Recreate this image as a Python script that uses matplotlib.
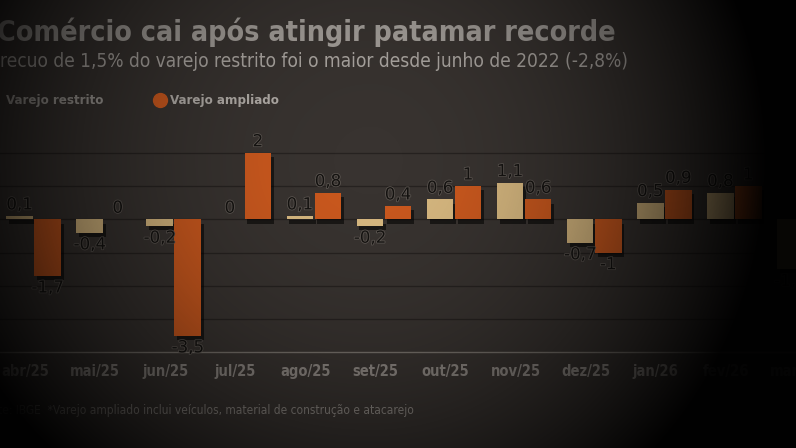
import numpy as np
import matplotlib
matplotlib.use("Agg")
import matplotlib.pyplot as plt
import matplotlib.patheffects as pe
from matplotlib.lines import Line2D

# Dados
meses = ["abr/25", "mai/25", "jun/25", "jul/25", "ago/25", "set/25",
         "out/25", "nov/25", "dez/25", "jan/26", "fev/26", "mar/26"]
restrito = [0.1, -0.4, -0.2, 0.0, 0.1, -0.2, 0.6, 1.1, -0.7, 0.5, 0.8, -1.5]
ampliado = [-1.7, 0.0, -3.5, 2.0, 0.8, 0.4, 1.0, 0.6, -1.0, 0.9, 1.0, None]

titulo = "Comércio cai após atingir patamar recorde"
subtitulo = "recuo de 1,5% do varejo restrito foi o maior desde junho de 2022 (-2,8%)"
nota = "Fonte: IBGE  *Varejo ampliado inclui veículos, material de construção e atacarejo"

# Estilo
cor_fundo = "#383330"
cor_restrito = "#d6b77f"
cor_ampliado = "#c9581e"
cor_rotulo = "#151311"
fonte = "DejaVu Sans"
cond = "condensed"

W, H = 796, 448
fig = plt.figure(figsize=(W / 100, H / 100), dpi=100, facecolor=cor_fundo)
ax = fig.add_axes([0, 0.21, 1, 0.493])
ax.set_facecolor(cor_fundo)

x = np.arange(len(meses))
larg = 0.38
desl = 0.2
sombra = [pe.SimplePatchShadow(offset=(2, -3), shadow_rgbFace="black", alpha=0.55), pe.Normal()]
contorno = [pe.withStroke(linewidth=1.1, foreground="#5e5853")]

def fmt(v):
    return f"{v:g}".replace(".", ",")

for serie, cor, d in [(restrito, cor_restrito, -desl), (ampliado, cor_ampliado, desl)]:
    for xi, v in zip(x, serie):
        if v is None:
            continue
        if v != 0:
            b = ax.bar(xi + d, v, width=larg, color=cor, zorder=3)
            b[0].set_path_effects(sombra)
        if v >= 0:
            ax.text(xi + d, v + 0.08, fmt(v), ha="center", va="bottom", fontsize=12,
                    color=cor_rotulo, family=fonte, zorder=4, path_effects=contorno)
        else:
            ax.text(xi + d, v - 0.08, fmt(v), ha="center", va="top", fontsize=12,
                    color=cor_rotulo, family=fonte, zorder=4, path_effects=contorno)

ax.set_xlim(-0.48, 10.76)
ax.set_ylim(-4.05, 2.6)
for g in [-3, -2, -1, 0, 1, 2]:
    ax.axhline(g, color="#262220", lw=0.9, zorder=1)
ax.axhline(-4, color="#77716b", lw=1.0, zorder=1)

ax.set_xticks(x - 0.12)
ax.set_xticklabels(meses, family=fonte, fontstretch=cond, fontsize=10.5,
                   fontweight="bold", color="#8d8782")
ax.tick_params(axis="x", length=0, pad=7)
ax.set_yticks([])
for s in ax.spines.values():
    s.set_visible(False)

# Textos
fig.text(-0.004, 0.928, titulo, fontsize=20.5, fontweight="bold", fontstretch=cond,
         color="#a29d98", family=fonte, va="center", ha="left")
fig.text(0.0, 0.862, subtitulo, fontsize=13.7, fontstretch=cond, color="#aaa5a0",
         family=fonte, va="center", ha="left")
fig.text(0.007, 0.776, "Varejo restrito", fontsize=9.5, fontweight="bold", fontstretch=cond,
         color="#a29d98", family=fonte, va="center", ha="left")
fig.add_artist(Line2D([0.201], [0.776], marker="o", markersize=10, color=cor_ampliado,
                      linestyle="none", transform=fig.transFigure))
fig.text(0.213, 0.776, "Varejo ampliado", fontsize=9.5, fontweight="bold", fontstretch=cond,
         color="#b0aba6", family=fonte, va="center", ha="left")
fig.text(-0.026, 0.083, nota, fontsize=8.6, fontstretch=cond, color="#8a8580",
         family=fonte, va="center", ha="left")

# Vinheta (iluminação), mais suave à esquerda
yy, xx = np.mgrid[0:H, 0:W]
escala_x = np.where(xx < 370, 450.0, 400.0)
r = np.sqrt(((xx - 370) / escala_x) ** 2 + ((yy - 160) / 420.0) ** 2)
alpha = np.clip(r ** 2.2, 0, 0.97)
rgba = np.zeros((H, W, 4))
rgba[..., 3] = alpha
av = fig.add_axes([0, 0, 1, 1], zorder=10)
av.imshow(rgba, aspect="auto", interpolation="bilinear")
av.axis("off")

fig.savefig("out.png", dpi=100, facecolor=cor_fundo)
